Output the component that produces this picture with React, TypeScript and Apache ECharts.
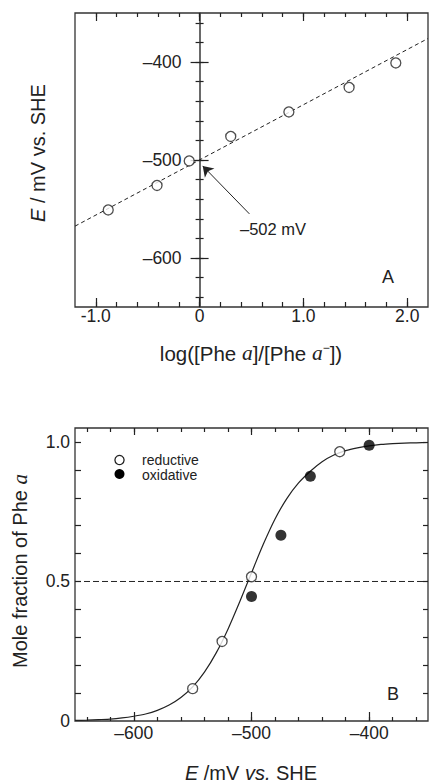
import React, { useEffect, useRef } from 'react';
import * as echarts from 'echarts';

// ---------- Panel A data ----------
const aLogRatio = [-0.88, -0.41, -0.1, 0.3, 0.86, 1.44, 1.89];
const aPotential = [-551, -526, -501, -476, -451, -426, -401];
const aFitX = [-1.2, 2.2];
const aFitY = [-567.5, -376];
const aArrowFrom = [0.48, -555];
const aArrowTo = [0.03, -506];

const aXMajor = [-1, 0, 1, 2];
const aXLabels = ['-1.0', '0', '1.0', '2.0'];
const aXMinor = [-1.0, -0.8, -0.6, -0.4, -0.2, 0, 0.2, 0.4, 0.6, 0.8, 1.0, 1.2, 1.4, 1.6, 1.8, 2.0];
const aYMajor = [-600, -500, -400];
const aYLabels = ['\u2013600', '\u2013500', '\u2013400'];
const aYMinor = [-640, -620, -600, -580, -560, -540, -520, -500, -480, -460, -440, -420, -400, -380, -360];

// ---------- Panel B data ----------
const redE = [-550, -525, -500, -425];
const redF = [0.116, 0.285, 0.517, 0.965];
const oxE = [-500, -475, -450, -400];
const oxF = [0.446, 0.666, 0.877, 0.988];
const curveE = [-650, -640, -630, -620, -610, -600, -590, -580, -570, -560, -550, -540, -530, -520, -510, -500,
  -490, -480, -470, -460, -450, -440, -430, -420, -410, -400, -390, -380, -370, -360, -350];
const curveF = [0.002, 0.003, 0.005, 0.007, 0.011, 0.017, 0.025, 0.038, 0.057, 0.084, 0.122, 0.175, 0.244, 0.329,
  0.427, 0.531, 0.633, 0.724, 0.797, 0.853, 0.895, 0.929, 0.953, 0.969, 0.979, 0.986, 0.991, 0.994, 0.996, 0.997, 0.998];
const halfX = [-650, -350];
const halfY = [0.5, 0.5];

const bXMajor = [-600, -500, -400];
const bXLabels = ['\u2013600', '\u2013500', '\u2013400'];
const bXMinor = [-640, -620, -600, -580, -560, -540, -520, -500, -480, -460, -440, -420, -400, -380, -360];
const bYTicks = [0.1, 0.2, 0.3, 0.4, 0.5, 0.6, 0.7, 0.8, 0.9, 1.0];
const bYMajor = [0, 0.5, 1.0];
const bYLabels = ['0', '0.5', '1.0'];

const FONT = '"Liberation Sans", Arial, Helvetica, sans-serif';
const SERIF = '"Liberation Serif", "Times New Roman", serif';
const INK = '#222';
const TICKFS = 17.5;

// grid A: left 75, width 353, x range -1.2..2.2 -> x = 0 lies 125 px right of the left edge
const A_ZERO_OFFSET = -(353 * (0 - -1.2)) / (2.2 - -1.2);

function xAx(grid: number, min: number, max: number, position: string, vals: number[], len: number, labels?: { vals: number[]; text: string[]; margin: number }) {
  return {
    type: 'value', gridIndex: grid, position, min, max, offset: 0,
    axisLine: { show: false, onZero: false },
    splitLine: { show: false },
    axisTick: { show: true, inside: true, length: len, customValues: vals, lineStyle: { color: INK, width: 1.2 } },
    axisLabel: labels
      ? {
          show: true, customValues: labels.vals, margin: labels.margin, color: INK, fontFamily: FONT, fontSize: TICKFS,
          formatter: (v: number) => { const i = labels.vals.findIndex((m) => Math.abs(m - v) < 1e-9); return i >= 0 ? labels.text[i] : ''; },
        }
      : { show: false },
  };
}

function yAx(grid: number, min: number, max: number, position: string, vals: number[], len: number, inside: boolean, offset: number, showLine: boolean, labels?: { vals: number[]; text: string[]; margin: number }) {
  return {
    type: 'value', gridIndex: grid, position, min, max, offset,
    axisLine: { show: showLine, onZero: false, lineStyle: { color: '#444', width: 1.6 } },
    splitLine: { show: false },
    axisTick: { show: true, inside, length: len, customValues: vals, lineStyle: { color: INK, width: 1.2 } },
    axisLabel: labels
      ? {
          show: true, customValues: labels.vals, margin: labels.margin, color: INK, fontFamily: FONT, fontSize: TICKFS,
          formatter: (v: number) => { const i = labels.vals.findIndex((m) => Math.abs(m - v) < 1e-9); return i >= 0 ? labels.text[i] : ''; },
        }
      : { show: false },
  };
}

export default function App() {
  const ref = useRef<HTMLDivElement>(null);
  useEffect(() => {
    const chart = echarts.init(ref.current!, null, { renderer: 'svg' });
    const openSym = { color: '#fff', borderColor: INK, borderWidth: 1.3 };
    const option: any = {
      animation: false,
      backgroundColor: '#fff',
      textStyle: { fontFamily: FONT },
      grid: [
        { left: 75, top: 13, width: 353, height: 294, show: true, borderColor: '#333', borderWidth: 1.3, backgroundColor: 'transparent', outerBoundsMode: 'none', containLabel: false },
        { left: 75, top: 428, width: 353, height: 293, show: true, borderColor: '#333', borderWidth: 1.3, backgroundColor: 'transparent', outerBoundsMode: 'none', containLabel: false },
      ],
      xAxis: [
        xAx(0, -1.2, 2.2, 'bottom', aXMajor, 9, { vals: aXMajor, text: aXLabels, margin: 0 }),
        xAx(0, -1.2, 2.2, 'bottom', aXMinor, 5),
        xAx(0, -1.2, 2.2, 'top', aXMajor, 8),
        xAx(0, -1.2, 2.2, 'top', aXMinor, 4),
        xAx(1, -650, -350, 'bottom', bXMajor, 9, { vals: bXMajor, text: bXLabels, margin: 3 }),
        xAx(1, -650, -350, 'bottom', bXMinor, 4),
        xAx(1, -650, -350, 'top', bXMajor, 7),
        xAx(1, -650, -350, 'top', bXMinor, 4),
      ],
      yAxis: [
        yAx(0, -650, -350, 'left', aYMajor, 9, false, A_ZERO_OFFSET, true, { vals: aYMajor, text: aYLabels, margin: 18 }),
        yAx(0, -650, -350, 'left', aYMajor, 9, true, A_ZERO_OFFSET, false),
        yAx(0, -650, -350, 'left', aYMinor, 4, false, A_ZERO_OFFSET, false),
        yAx(0, -650, -350, 'left', aYMinor, 4, true, A_ZERO_OFFSET, false),
        yAx(1, 0, 1.05, 'left', bYTicks, 6, true, 0, false, { vals: bYMajor, text: bYLabels, margin: 5 }),
        yAx(1, 0, 1.05, 'right', bYTicks, 5, true, 0, false),
      ],
      series: [
        {
          type: 'line', xAxisIndex: 0, yAxisIndex: 0, silent: true,
          data: aFitX.map((x, i) => [x, aFitY[i]]),
          showSymbol: false, symbol: 'none',
          lineStyle: { color: INK, width: 1, type: [4, 3] },
          markLine: {
            silent: true, symbol: ['none', 'arrow'], symbolSize: 10, label: { show: false },
            lineStyle: { color: INK, width: 1, type: 'solid' },
            data: [[{ coord: aArrowFrom }, { coord: aArrowTo }]],
          },
          z: 3,
        },
        {
          type: 'scatter', xAxisIndex: 0, yAxisIndex: 0, silent: true,
          data: aLogRatio.map((x, i) => [x, aPotential[i]]),
          symbol: 'circle', symbolSize: 10, itemStyle: openSym, z: 5,
        },
        {
          type: 'line', xAxisIndex: 4, yAxisIndex: 4, silent: true,
          data: halfX.map((x, i) => [x, halfY[i]]),
          symbol: 'none', lineStyle: { color: INK, width: 1, type: [6, 3] }, z: 2,
        },
        {
          type: 'line', xAxisIndex: 4, yAxisIndex: 4, silent: true,
          data: curveE.map((x, i) => [x, curveF[i]]),
          symbol: 'none', smooth: 0.2, lineStyle: { color: INK, width: 1.2 }, z: 3,
        },
        {
          name: 'reductive', type: 'scatter', xAxisIndex: 4, yAxisIndex: 4, silent: true,
          data: redE.map((x, i) => [x, redF[i]]),
          symbol: 'circle', symbolSize: 10, itemStyle: openSym, z: 5,
        },
        {
          name: 'oxidative', type: 'scatter', xAxisIndex: 4, yAxisIndex: 4, silent: true,
          data: oxE.map((x, i) => [x, oxF[i]]),
          symbol: 'circle', symbolSize: 11, itemStyle: { color: '#000' }, z: 5,
        },
      ],
      graphic: [
        { type: 'text', x: 240, y: 229, style: { text: '\u2013502 mV', fill: INK, font: `16.5px ${FONT}`, textAlign: 'left', textVerticalAlign: 'middle' } },
        { type: 'text', x: 388, y: 277, style: { text: 'A', fill: INK, font: `18px ${FONT}`, textAlign: 'center', textVerticalAlign: 'middle' } },
        { type: 'text', x: 393, y: 694, style: { text: 'B', fill: INK, font: `18px ${FONT}`, textAlign: 'center', textVerticalAlign: 'middle' } },
        {
          type: 'text', x: 251, y: 353,
          style: {
            text: 'log([Phe {a|a}]/[Phe {a|a}{s|\u2212}])', fill: INK, font: `20.5px ${FONT}`, textAlign: 'center', textVerticalAlign: 'middle',
            rich: {
              a: { fontFamily: SERIF, fontStyle: 'italic', fontSize: 21.5, fill: INK },
              s: { fontSize: 12, fill: INK, verticalAlign: 'top', padding: [0, 0, 8, 0] },
            },
          },
        },
        {
          type: 'text', x: 38, y: 153, rotation: Math.PI / 2,
          style: {
            text: '{i|E} / mV vs. SHE', fill: INK, font: `20px ${FONT}`, textAlign: 'center', textVerticalAlign: 'middle',
            rich: { i: { fontStyle: 'italic', fontSize: 20, fontFamily: FONT, fill: INK } },
          },
        },
        {
          type: 'text', x: 251, y: 773,
          style: {
            text: '{i|E} /mV {i|vs.} SHE', fill: INK, font: `20px ${FONT}`, textAlign: 'center', textVerticalAlign: 'middle',
            rich: { i: { fontStyle: 'italic', fontSize: 20, fontFamily: FONT, fill: INK } },
          },
        },
        {
          type: 'text', x: 20, y: 571, rotation: Math.PI / 2,
          style: {
            text: 'Mole fraction of Phe {a|a}', fill: INK, font: `20px ${FONT}`, textAlign: 'center', textVerticalAlign: 'middle',
            rich: { a: { fontFamily: SERIF, fontStyle: 'italic', fontSize: 21, fill: INK } },
          },
        },
        { type: 'circle', shape: { cx: 119.5, cy: 460, r: 4.6 }, style: { fill: '#fff', stroke: INK, lineWidth: 1.3 } },
        { type: 'circle', shape: { cx: 119.5, cy: 474, r: 5 }, style: { fill: '#000' } },
        { type: 'text', x: 142, y: 459.5, style: { text: 'reductive', fill: INK, font: `14px ${FONT}`, lineHeight: 14, textAlign: 'left', textVerticalAlign: 'middle' } },
        { type: 'text', x: 142, y: 474.5, style: { text: 'oxidative', fill: INK, font: `14px ${FONT}`, lineHeight: 14, textAlign: 'left', textVerticalAlign: 'middle' } },
      ],
    };
    chart.setOption(option);
    return () => chart.dispose();
  }, []);
  return <div ref={ref} style={{ position: 'absolute', left: 0, top: 0, width: 429, height: 783 }} />;
}
